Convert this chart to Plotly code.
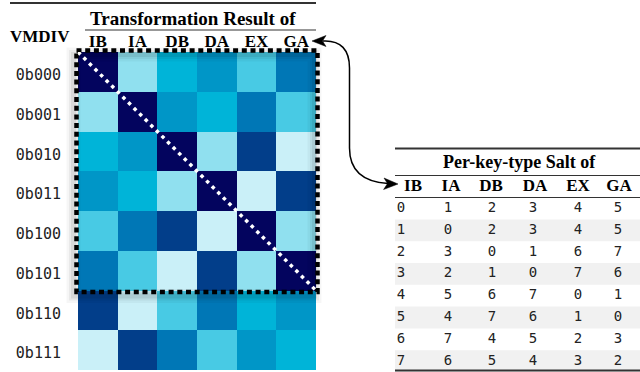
import plotly.graph_objects as go

# ---------------- data ----------------
col_labels = ["IB", "IA", "DB", "DA", "EX", "GA"]
row_labels = ["0b000", "0b001", "0b010", "0b011", "0b100", "0b101", "0b110", "0b111"]

# colour class of every heatmap cell
heat_values = [
    [0, 1, 2, 3, 4, 5],
    [1, 0, 3, 2, 5, 4],
    [2, 3, 0, 1, 6, 7],
    [3, 2, 1, 0, 7, 6],
    [4, 5, 6, 7, 0, 1],
    [5, 4, 7, 6, 1, 0],
    [6, 7, 4, 5, 2, 3],
    [7, 6, 5, 4, 3, 2],
]

# "Per-key-type Salt of" table
salt_headers = ["IB", "IA", "DB", "DA", "EX", "GA"]
salt_rows = [
    [0, 1, 2, 3, 4, 5],
    [1, 0, 2, 3, 4, 5],
    [2, 3, 0, 1, 6, 7],
    [3, 2, 1, 0, 7, 6],
    [4, 5, 6, 7, 0, 1],
    [5, 4, 7, 6, 1, 0],
    [6, 7, 4, 5, 2, 3],
    [7, 6, 5, 4, 3, 2],
]

palette = ["#03045e", "#90e0ef", "#00b4d8", "#0096c7",
           "#48cae4", "#0077b6", "#023e8a", "#caf0f8"]

# ---------------- layout constants (pixels) ----------------
W, H = 640, 372
HM_X0, HM_X1 = 78, 316
HM_Y0, HM_Y1 = 52, 370
SERIF = "Liberation Serif"
MONO = "DejaVu Sans Mono"
INK = "#222222"

table_num_x = [401, 448, 492, 533, 578, 618]
table_head_x = [413, 451, 491, 535, 578, 619]
table_row0_y = 208.5
table_row_h = 21.8
table_head_y = 187

n = len(palette)
colorscale = []
for i, c in enumerate(palette):
    colorscale.append([i / n, c])
    colorscale.append([(i + 1) / n, c])

fig = go.Figure()

fig.add_trace(go.Heatmap(
    z=heat_values,
    x=list(range(len(col_labels))),
    y=list(range(len(row_labels))),
    colorscale=colorscale, zmin=-0.5, zmax=n - 0.5,
    showscale=False, hoverinfo="skip",
))

# table numbers on a pixel-coordinate overlay axis
tx, ty, tt = [], [], []
for r, row in enumerate(salt_rows):
    for c, v in enumerate(row):
        tx.append(table_num_x[c])
        ty.append(table_row0_y + r * table_row_h)
        tt.append(str(v))
fig.add_trace(go.Scatter(
    x=tx, y=ty, text=tt, mode="text", xaxis="x2", yaxis="y2",
    textfont=dict(family=MONO, size=14, color=INK),
    hoverinfo="skip", showlegend=False, cliponaxis=False,
))
fig.add_trace(go.Scatter(
    x=table_head_x, y=[table_head_y] * len(salt_headers), text=salt_headers,
    mode="text", xaxis="x2", yaxis="y2",
    textfont=dict(family=SERIF, size=17, color="black", weight="bold"),
    hoverinfo="skip", showlegend=False, cliponaxis=False,
))

shapes = []
# shaded rows of the table
for r in range(len(salt_rows)):
    if r % 2 == 1:
        yc = table_row0_y + r * table_row_h
        shapes.append(dict(type="rect", xref="x2", yref="y2",
                           x0=395, x1=640, y0=yc - table_row_h / 2, y1=yc + table_row_h / 2,
                           fillcolor="#f1f1f1", line=dict(width=0), layer="below"))

# rules
def rule(x0, x1, y, w, color="#333333"):
    shapes.append(dict(type="line", xref="x2", yref="y2", x0=x0, x1=x1, y0=y, y1=y,
                       line=dict(color=color, width=w)))

rule(10, 316, 3, 2)
rule(85, 316, 30, 1.2)
rule(395, 640, 148.5, 2)
rule(395, 640, 175.5, 1.2)
rule(395, 640, 197.5, 1.2)
rule(395, 640, 370.5, 2)

# dashed box around rows 0-5 (pixel frame)
row_h = (HM_Y1 - HM_Y0) / len(row_labels)
bx0, bx1 = HM_X0 - 1.5, HM_X1 + 1.5
by0, by1 = HM_Y0 - 1.5, HM_Y0 + 6 * row_h + 1.5

# soft shadow, offset down-left
for w, a in [(14, 0.035), (9, 0.05), (5, 0.07)]:
    shapes.append(dict(type="rect", xref="x2", yref="y2",
                       x0=bx0 - 3, x1=bx1 - 3, y0=by0 + 4, y1=by1 + 4,
                       line=dict(color=f"rgba(0,0,0,{a})", width=w)))

shapes.append(dict(type="rect", xref="x2", yref="y2",
                   x0=bx0, x1=bx1, y0=by0, y1=by1,
                   line=dict(color="black", width=4.5, dash="5px,3.7px")))
# white dotted diagonal
shapes.append(dict(type="line", xref="x", yref="y",
                   x0=-0.5, y0=-0.5, x1=5.5, y1=5.5,
                   line=dict(color="white", width=3.5, dash="3.5px,4.4px")))

# curved arrow
shapes.append(dict(type="path", xref="x2", yref="y2",
                   path="M 323 41 C 341 40, 349.5 50, 349.5 68 L 349.5 148 C 349.5 172, 364 182, 388 183.5",
                   line=dict(color="black", width=1.5)))
shapes.append(dict(type="path", xref="x2", yref="y2",
                   path="M 312 41 L 326 35.5 L 322.5 41 L 326 46.5 Z",
                   fillcolor="black", line=dict(color="black", width=0.5)))
shapes.append(dict(type="path", xref="x2", yref="y2",
                   path="M 398 184 L 384 178 L 387.5 183.6 L 383.6 189.5 Z",
                   fillcolor="black", line=dict(color="black", width=0.5)))

annotations = [
    dict(text="Transformation Result of", xref="x2", yref="y2", x=193, y=18,
         showarrow=False, font=dict(family=SERIF, size=19, color="black", weight="bold")),
    dict(text="VMDIV", xref="x2", yref="y2", x=40, y=36,
         showarrow=False, font=dict(family=SERIF, size=17, color="black", weight="bold")),
    dict(text="Per-key-type Salt of", xref="x2", yref="y2", x=519, y=162,
         showarrow=False, font=dict(family=SERIF, size=18, color="black", weight="bold")),
]

fig.update_layout(
    width=W, height=H,
    margin=dict(l=0, r=0, t=0, b=0, pad=0, autoexpand=False),
    paper_bgcolor="white", plot_bgcolor="rgba(0,0,0,0)",
    showlegend=False,
    shapes=shapes, annotations=annotations,
    xaxis=dict(domain=[HM_X0 / W, HM_X1 / W], range=[-0.5, 5.5], side="top",
               tickvals=list(range(len(col_labels))), ticktext=col_labels,
               tickfont=dict(family=SERIF, size=17, color="black", weight="bold"),
               showgrid=False, zeroline=False, showline=False, ticks="",
               ticklabelstandoff=1, fixedrange=True, automargin=False),
    yaxis=dict(domain=[(H - HM_Y1) / H, (H - HM_Y0) / H], range=[7.5, -0.5],
               tickvals=list(range(len(row_labels))), ticktext=row_labels,
               tickfont=dict(family=MONO, size=15, color="#222222"),
               showgrid=False, zeroline=False, showline=False, ticks="",
               ticklabelstandoff=16, ticklabelshift=-3,
               fixedrange=True, automargin=False),
    xaxis2=dict(domain=[0, 1], range=[0, W], visible=False, anchor="y2",
                fixedrange=True, automargin=False),
    yaxis2=dict(domain=[0, 1], range=[H, 0], visible=False, anchor="x2",
                fixedrange=True, automargin=False),
)

fig.write_html("out.html", config={"displayModeBar": False},
               post_script="document.body.style.margin='0';document.body.style.overflow='hidden';")
